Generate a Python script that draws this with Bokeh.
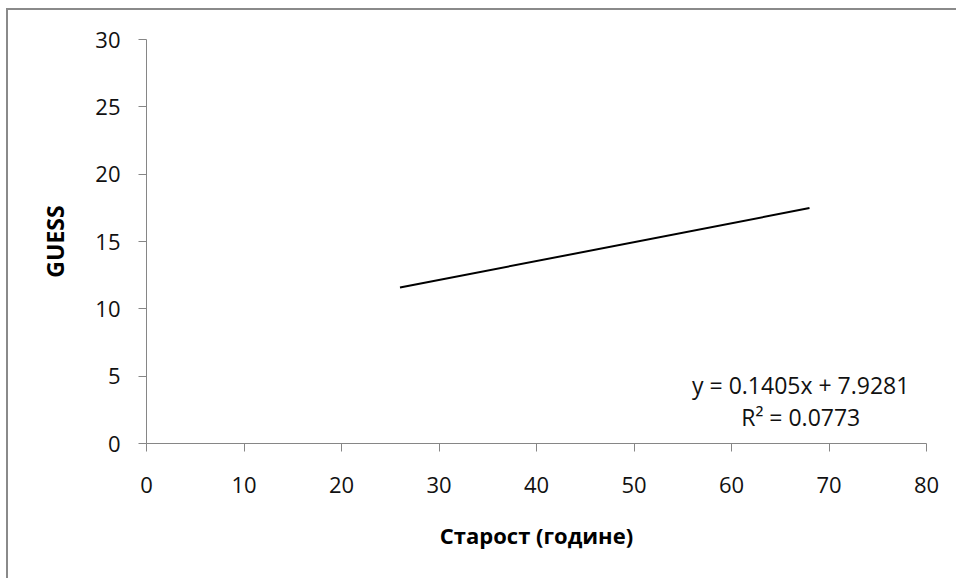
from bokeh.plotting import figure
from bokeh.models import Range1d, FixedTicker, Label
from bokeh.embed import file_html
from bokeh.resources import INLINE

# Data
trend_x = [26, 68]
trend_y = [11.58, 17.48]
x_ticks = [0, 10, 20, 30, 40, 50, 60, 70, 80]
y_ticks = [0, 5, 10, 15, 20, 25, 30]
x_label = "Старост (године)"
y_label = "GUESS"
eq_text = "y = 0.1405x + 7.9281"
r2_text = "R² = 0.0773"

FONT = "Open Sans"
AXIS_GRAY = "#868686"

p = figure(
    frame_width=780, frame_height=404,
    min_border_left=138, min_border_right=30,
    min_border_top=29, min_border_bottom=135,
    x_range=Range1d(0, 80), y_range=Range1d(0, 30),
    output_backend="svg", toolbar_location=None,
    background_fill_color="white", border_fill_color="white",
)
p.styles = {
    "margin-top": "8px", "margin-left": "6px",
    "border-top": "2px solid #8a8a8a", "border-left": "2px solid #8a8a8a",
}
p.outline_line_color = None
p.grid.visible = False

for ax, ticks in ((p.xaxis[0], x_ticks), (p.yaxis[0], y_ticks)):
    ax.ticker = FixedTicker(ticks=ticks)
    ax.minor_tick_line_color = None
    ax.axis_line_color = AXIS_GRAY
    ax.major_tick_line_color = AXIS_GRAY
    ax.major_tick_out = 8
    ax.major_tick_in = 0
    ax.major_label_text_font = FONT
    ax.major_label_text_font_size = "22px"
    ax.major_label_text_color = "#111111"
    ax.axis_label_text_font = FONT
    ax.axis_label_text_font_style = "bold"
    ax.axis_label_text_color = "#000000"

p.xaxis.axis_label = x_label
p.yaxis.axis_label = y_label
p.xaxis.axis_label_text_font_size = "22px"
p.yaxis.axis_label_text_font_size = "23px"
p.xaxis.major_label_standoff = 25
p.yaxis.major_label_standoff = 18
p.xaxis.axis_label_standoff = 24
p.yaxis.axis_label_standoff = 21

p.line(trend_x, trend_y, line_color="black", line_width=2)

p.add_layout(Label(x=67.1, y=4.35, text=eq_text, text_align="center",
                   text_baseline="alphabetic", text_font=FONT,
                   text_font_size="23px", text_color="#111111"))
p.add_layout(Label(x=67.1, y=2.0, text=r2_text, text_align="center",
                   text_baseline="alphabetic", text_font=FONT,
                   text_font_size="23px", text_color="#111111"))

open("out.html", "w").write(file_html(p, INLINE))
